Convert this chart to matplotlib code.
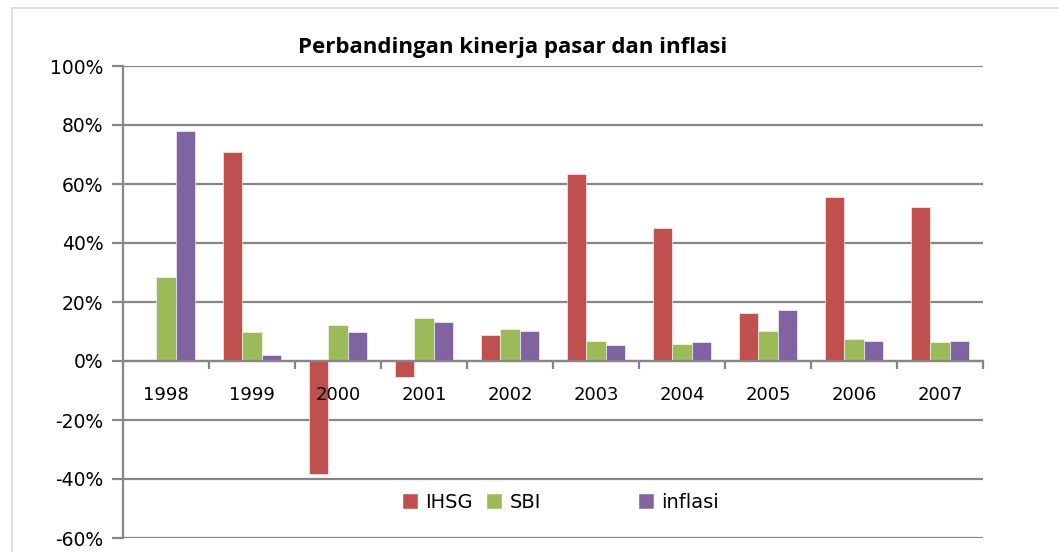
import numpy as np
import matplotlib
matplotlib.use('Agg')
import matplotlib.pyplot as plt
from matplotlib.patches import Rectangle
from matplotlib.ticker import PercentFormatter

plt.rcParams['axes.unicode_minus'] = False

years = ['1998', '1999', '2000', '2001', '2002', '2003', '2004', '2005', '2006', '2007']
ihsg = [0.0, 71.0, -38.4, -5.4, 8.9, 63.4, 45.2, 16.4, 55.6, 52.3]
sbi = [28.5, 9.9, 12.3, 14.5, 10.7, 6.8, 5.9, 10.1, 7.3, 6.3]
inflasi = [78.1, 2.0, 9.9, 13.2, 10.2, 5.5, 6.3, 17.4, 6.8, 6.8]

series_names = ['IHSG', 'SBI', 'inflasi']
colors = ['#C0504D', '#9BBB59', '#8064A2']
grid_gray = '#878787'

fig = plt.figure(figsize=(10.59, 5.52), dpi=100)
fig.patch.set_facecolor('white')

# light frame of the chart area (cropped at right and bottom)
fig.patches.append(Rectangle((12 / 1059, -0.1), 1.2, 1 - 8 / 552 + 0.1,
                             transform=fig.transFigure, fill=False,
                             edgecolor='#d9d9d9', linewidth=1.2))

ax = fig.add_axes([123 / 1059, 1 - 538 / 552, 860 / 1059, 472 / 552])

x = np.arange(len(years))
w = 1 / 4.5
bars = []
for i, (vals, c) in enumerate(zip([ihsg, sbi, inflasi], colors)):
    b = ax.bar(x + (i - 1) * w, vals, width=w, color=c,
               edgecolor='white', linewidth=0.4, zorder=3)
    bars.append(b)

ax.set_xlim(-0.5, len(years) - 0.5)
ax.set_ylim(-60, 100)
ax.set_yticks(np.arange(-60, 101, 20))
ax.yaxis.set_major_formatter(PercentFormatter(decimals=0))
ax.grid(axis='y', color=grid_gray, linewidth=1.6)
ax.set_axisbelow(True)
# year labels sit on top of the bars, like the original
ax.xaxis.set_zorder(5)

for s in ['top', 'right']:
    ax.spines[s].set_visible(False)
ax.spines['left'].set_color(grid_gray)
ax.spines['left'].set_linewidth(1.6)
ax.spines['bottom'].set_position(('data', 0))
ax.spines['bottom'].set_color(grid_gray)
ax.spines['bottom'].set_linewidth(1.6)
ax.spines['bottom'].set_zorder(4)

ax.set_xticks(x)
ax.set_xticklabels(years)
ax.set_xticks(np.arange(-0.5, len(years), 1), minor=True)
ax.tick_params(axis='x', which='major', length=0, pad=18, labelsize=13)
ax.tick_params(axis='x', which='minor', length=6, width=1.6, color=grid_gray,
               direction='out')
ax.tick_params(axis='y', length=8, width=1.6, color=grid_gray, pad=6,
               labelsize=13.5)

fig.text(513 / 1059, 1 - 48 / 552, 'Perbandingan kinerja pasar dan inflasi',
         ha='center', va='center', fontsize=16, fontweight='bold',
         family='Open Sans')

# legend entries, spaced like the original
legend_x = [403, 487, 639]
for b, name, lx in zip(bars, series_names, legend_x):
    leg = fig.legend([b], [name], loc='center left',
                     bbox_to_anchor=(lx / 1059, 1 - 502 / 552),
                     frameon=False, fontsize=14, handlelength=0.7,
                     handleheight=0.7, handletextpad=0.45, borderpad=0,
                     borderaxespad=0)
    for h in leg.legend_handles:
        h.set_edgecolor(h.get_facecolor())

fig.savefig('out.png', dpi=100)
